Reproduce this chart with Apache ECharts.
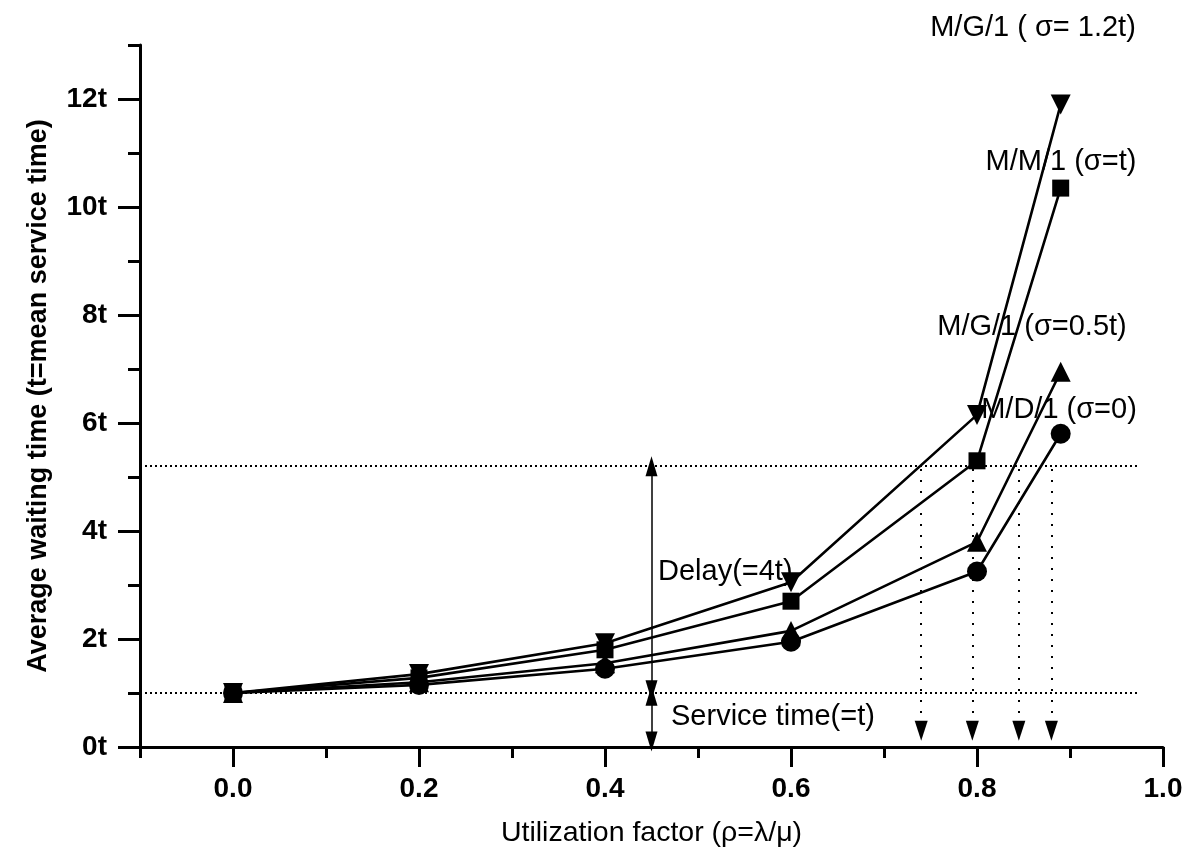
<!DOCTYPE html>
<html>
<head>
<meta charset="utf-8">
<script src="https://cdn.jsdelivr.net/npm/echarts@6/dist/echarts.min.js"></script>
<style>
html,body{margin:0;padding:0;background:#fff;}
#chart{width:1196px;height:853px;}
</style>
</head>
<body>
<div id="chart"></div>
<script>
// ---------- data ----------
const xValues = [0.0, 0.2, 0.4, 0.6, 0.8, 0.89];
const mg1HighVar = [1.0, 1.35, 1.92, 3.05, 6.15, 11.9];   // M/G/1 (sigma = 1.2t)
const mm1        = [1.0, 1.28, 1.8, 2.7, 5.3, 10.35];     // M/M/1 (sigma = t)
const mg1LowVar  = [1.0, 1.2, 1.55, 2.15, 3.8, 6.95];     // M/G/1 (sigma = 0.5t)
const md1        = [1.0, 1.15, 1.45, 1.95, 3.25, 5.8];    // M/D/1 (sigma = 0)

const seriesNames = ['M/G/1 ( \u03c3= 1.2t)', 'M/M/1 (\u03c3=t)', 'M/G/1 (\u03c3=0.5t)', 'M/D/1 (\u03c3=0)'];

const xMajorTicks = [0.0, 0.2, 0.4, 0.6, 0.8, 1.0];
const xMinorTicks = [-0.1, 0.1, 0.3, 0.5, 0.7, 0.9];
const yMajorTicks = [0, 2, 4, 6, 8, 10, 12];
const yMinorTicks = [1, 3, 5, 7, 9, 11, 13];

// annotation values
const serviceLevel = 1.0;
const delayLevel = 5.2;
const refLineStartX = -0.1;
const refLineEndX = 0.975;
const arrowX = 0.45;
const delayArrowFrom = 1.05;
const serviceArrowFrom = 0.1;
const serviceArrowTo = 0.95;
const dropLinesX = [0.74, 0.795, 0.845, 0.88];
const dropLineTop = 5.15;
const dropLineBottom = 0.3;

// ---------- chart ----------
const chart = echarts.init(document.getElementById('chart'));
const FONT = '"Liberation Sans", Arial, sans-serif';

function pts(ys){ return xValues.map((x,i)=>[x, ys[i]]); }

const lineStyle = {color:'#000', width:2.6};
const markerStyle = {color:'#000'};

function curve(name, ys, symbol, size, rotate){
  return {
    name: name, type:'line', data: pts(ys),
    symbol: symbol, symbolSize: size, symbolRotate: rotate || 0,
    showAllSymbol: true,
    lineStyle: lineStyle, itemStyle: markerStyle,
    z: 5, animation:false, silent:true
  };
}

const markLines = [];
[serviceLevel, delayLevel].forEach(v=>{
  markLines.push([
    {coord:[refLineStartX, v], symbol:'none', lineStyle:{type:[2,3], width:2, color:'#000'}},
    {coord:[refLineEndX, v], symbol:'none'}
  ]);
});
markLines.push([
  {coord:[arrowX, delayArrowFrom], symbol:'triangle', symbolSize:[12,20], lineStyle:{type:'solid', width:1.5, color:'#000'}},
  {coord:[arrowX, delayLevel], symbol:'triangle', symbolSize:[12,20]}
]);
markLines.push([
  {coord:[arrowX, serviceArrowFrom], symbol:'triangle', symbolSize:[12,20], lineStyle:{type:'solid', width:1.5, color:'#000'}},
  {coord:[arrowX, serviceArrowTo], symbol:'triangle', symbolSize:[12,20]}
]);
dropLinesX.forEach(x=>{
  markLines.push([
    {coord:[x, dropLineTop], symbol:'none', lineStyle:{type:[2,9], width:2, color:'#000'}},
    {coord:[x, dropLineBottom], symbol:'triangle', symbolSize:[13,20]}
  ]);
});

const option = {
  backgroundColor:'#fff',
  animation:false,
  grid:{left:140, right:33, top:45, bottom:105, containLabel:false},
  xAxis:[
    {
      type:'value', min:-0.1, max:1.0, position:'bottom',
      axisLine:{show:true, onZero:false, lineStyle:{color:'#000', width:3}},
      axisTick:{show:true, inside:false, length:20, customValues:xMajorTicks, lineStyle:{color:'#000', width:3}},
      axisLabel:{show:true, customValues:xMajorTicks, margin:28, formatter:(v)=>Number(v).toFixed(1),
        color:'#000', fontFamily:FONT, fontSize:28, fontWeight:'bold'},
      splitLine:{show:false},
      name:'Utilization factor (\u03c1=\u03bb/\u03bc)', nameLocation:'middle', nameGap:72,
      nameTextStyle:{color:'#000', fontFamily:FONT, fontSize:28.5}
    },
    {
      type:'value', min:-0.1, max:1.0, position:'bottom', gridIndex:0,
      axisLine:{show:false, onZero:false},
      axisTick:{show:true, inside:false, length:11, customValues:xMinorTicks, lineStyle:{color:'#000', width:3}},
      axisLabel:{show:false},
      splitLine:{show:false}
    }
  ],
  yAxis:[
    {
      type:'value', min:0, max:13, position:'left',
      axisLine:{show:true, onZero:false, lineStyle:{color:'#000', width:3}},
      axisTick:{show:true, inside:false, length:22, customValues:yMajorTicks, lineStyle:{color:'#000', width:3}},
      axisLabel:{show:true, customValues:yMajorTicks, margin:33, formatter:(v)=>v+'t',
        color:'#000', fontFamily:FONT, fontSize:28, fontWeight:'bold', padding:[0,0,22,0]},
      splitLine:{show:false},
      name:'Average waiting time (t=mean service time)', nameLocation:'middle', nameGap:88,
      nameTextStyle:{color:'#000', fontFamily:FONT, fontSize:27, fontWeight:'bold'}
    },
    {
      type:'value', min:0, max:13, position:'left', gridIndex:0,
      axisLine:{show:false, onZero:false},
      axisTick:{show:true, inside:false, length:12, customValues:yMinorTicks, lineStyle:{color:'#000', width:3}},
      axisLabel:{show:false},
      splitLine:{show:false}
    }
  ],
  series:[
    curve(seriesNames[0], mg1HighVar, 'triangle', 20, 180),
    curve(seriesNames[1], mm1, 'rect', 17, 0),
    curve(seriesNames[2], mg1LowVar, 'triangle', 20, 0),
    curve(seriesNames[3], md1, 'circle', 20, 0),
    {
      type:'line', data:[], silent:true, z:3,
      markLine:{silent:true, animation:false, label:{show:false}, data:markLines,
        itemStyle:{color:'#000'}}
    }
  ],
  graphic:[
    {type:'text', style:{text:seriesNames[0], x:1033, y:28, align:'center', verticalAlign:'middle', font:'29px '+FONT, fill:'#000'}, z:10},
    {type:'text', style:{text:seriesNames[1], x:1061, y:162, align:'center', verticalAlign:'middle', font:'29px '+FONT, fill:'#000'}, z:10},
    {type:'text', style:{text:seriesNames[2], x:1032, y:327, align:'center', verticalAlign:'middle', font:'29px '+FONT, fill:'#000'}, z:10},
    {type:'text', style:{text:seriesNames[3], x:1059, y:410, align:'center', verticalAlign:'middle', font:'29px '+FONT, fill:'#000'}, z:10},
    {type:'text', style:{text:'Delay(=4t)', x:658, y:572, align:'left', verticalAlign:'middle', font:'29px '+FONT, fill:'#000'}, z:10},
    {type:'text', style:{text:'Service time(=t)', x:671, y:717, align:'left', verticalAlign:'middle', font:'29px '+FONT, fill:'#000'}, z:10}
  ]
};
chart.setOption(option);
</script>
</body>
</html>
